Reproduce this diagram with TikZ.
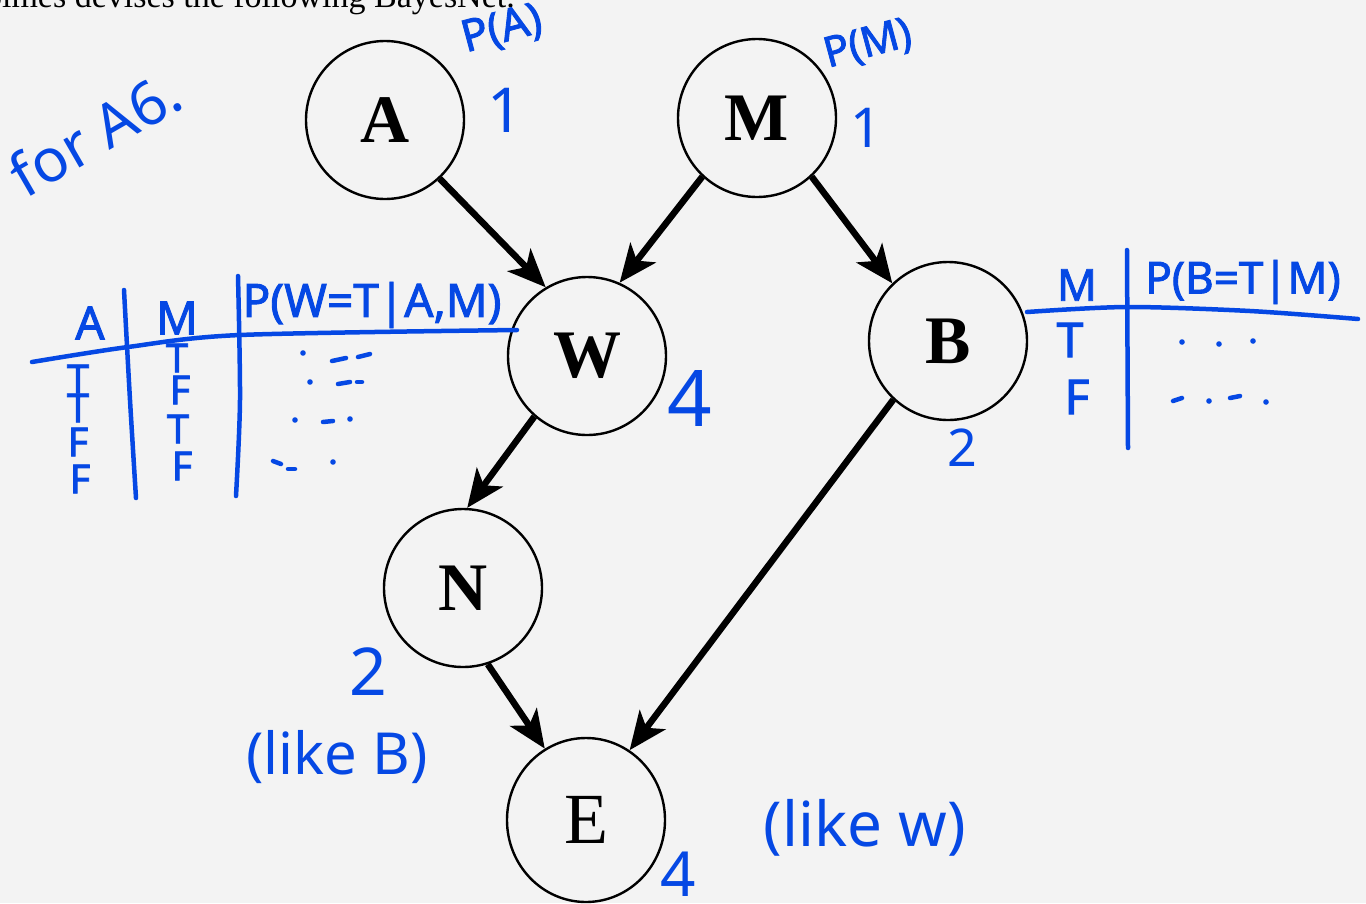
\documentclass[tikz,border=0pt]{standalone}
\usepackage{fontspec}
\setmainfont{Liberation Serif}
\newfontfamily\hand{Noto Sans}
\newfontfamily\handb[FakeBold=2]{Noto Sans}
\usetikzlibrary{arrows.meta,shapes.geometric}
\definecolor{ink}{RGB}{5,72,228}
\definecolor{paper}{RGB}{243,243,243}
\newcommand{\fs}[1]{\fontsize{#1}{#1}\selectfont}
\begin{document}
\begin{tikzpicture}[x=1pt,y=-1pt,
  bn/.style={circle,draw=black,line width=2.4pt,minimum size=158pt,inner sep=0pt,font=\fs{68}\bfseries},
  edge/.style={line width=6.5pt,-{Stealth[length=38pt,width=32pt,inset=10pt]}},
  hw/.style={text=ink,inner sep=0pt},
  hb/.style={text=ink,inner sep=0pt,font=\handb\fs{40}},
  stroke/.style={draw=ink,line width=4.5pt,line cap=round,line join=round},
  dot/.style={fill=ink}]
\fill[paper] (0,0) rectangle (1366,903);
\useasboundingbox (0,0) rectangle (1366,903);
\begin{scope}
\clip (0,0) rectangle (1366,903);
\node[anchor=base east,inner sep=0pt,font=\fs{34}] (title) at (515,7) {Holmes devises the following BayesNet.};
\end{scope}
% Bayes net
\node[bn] (A) at (385,120) {A};
\node[bn] (M) at (757,118) {M};
\node[bn] (W) at (587,356) {W};
\node[bn] (B) at (948,341) {B};
\node[bn] (N) at (463,588) {N};
\node[bn,ellipse,minimum width=158pt,minimum height=164pt,font=\fs{72}] (E) at (586,820) {E};
\draw[edge] (A.313) -- (W.121);
\draw[edge] (M.227) -- (W.66);
\draw[edge] (M.313) -- (B.134);
\draw[edge] (W.229) -- (N.87);
\draw[edge] (N.288) -- (E.120);
\draw[edge] (B.227) -- (E.58);
% handwritten annotations
\node[hw,font=\hand\fs{60},rotate=30] (forA) at (95,133) {for A6.};
\node[hw,font=\handb\fs{44},rotate=15] (pA) at (502,30) {P(A)};
\node[hw,font=\hand\fs{62}] (nA) at (505,110) {1};
\node[hw,font=\handb\fs{42},rotate=15] (pM) at (868,45) {P(M)};
\node[hw,font=\hand\fs{55}] (nM) at (866,128) {1};
\node[hw,font=\hand\fs{78}] (nW) at (690,398) {4};
\node[hw,font=\hand\fs{52}] (nB) at (962,448) {2};
\node[hw,font=\hand\fs{66}] (nN) at (368,672) {2};
\node[hw,font=\hand\fs{58}] (likeB) at (337,757) {(like B)};
\node[hw,font=\hand\fs{62}] (likeW) at (865,828) {(like w)};
\node[hw,font=\hand\fs{62}] (nE) at (678,874) {4};
% left table (CPT of W)
\draw[stroke] plot[smooth] coordinates {(32,362) (128,347) (240,335) (517,330)};
\draw[stroke] plot[smooth] coordinates {(124,290) (130,400) (136,498)};
\draw[stroke] plot[smooth] coordinates {(238,276) (240,400) (236,496)};
\node[hb,font=\handb\fs{46}] (hA) at (90,323) {A};
\node[hb,font=\handb\fs{46}] (hM) at (177,318) {M};
\node[hb,font=\handb\fs{46}] (hP) at (372,305) {P(W=T|A,M)};
\node[hb] (a1) at (78,379) {T};
\node[hb] (a2) at (78,408) {T};
\node[hb] (a3) at (78,442) {F};
\node[hb] (a4) at (80,479) {F};
\node[hb] (m1) at (177,358) {T};
\node[hb] (m2) at (180,390) {F};
\node[hb] (m3) at (178,429) {T};
\node[hb] (m4) at (182,466) {F};
\fill[dot] (303,353) circle (2.8);
\draw[stroke] (332,361) -- (346,358);
\draw[stroke] (358,357) -- (370,354);
\fill[dot] (310,382) circle (2.8);
\draw[stroke] (338,384) -- (350,382);
\draw[stroke] (357,382) -- (362,382);
\fill[dot] (295,420) circle (2.8);
\draw[stroke] (323,422) -- (333,421);
\fill[dot] (350,419) circle (2.8);
\draw[stroke] (273,461) -- (281,464);
\draw[stroke] (288,469) -- (295,469);
\fill[dot] (333,462) circle (2.8);
% right table (CPT of B)
\draw[stroke] plot[smooth] coordinates {(1027,312) (1127,307) (1250,311) (1358,319)};
\draw[stroke] (1127,250) -- (1128,448);
\node[hb,font=\handb\fs{44}] (rM) at (1077,285) {M};
\node[hb,font=\handb\fs{44}] (rP) at (1243,282) {P(B=T|M)};
\node[hw,font=\handb\fs{48}] (rT) at (1070,340) {T};
\node[hw,font=\handb\fs{48}] (rF) at (1077,397) {F};
\fill[dot] (1182,342) circle (2.8);
\fill[dot] (1219,344) circle (2.8);
\fill[dot] (1253,341) circle (2.8);
\draw[stroke] (1173,401) -- (1182,398);
\fill[dot] (1209,401) circle (2.8);
\draw[stroke] (1230,398) -- (1240,396);
\fill[dot] (1266,402) circle (2.8);
\end{tikzpicture}
\end{document}
